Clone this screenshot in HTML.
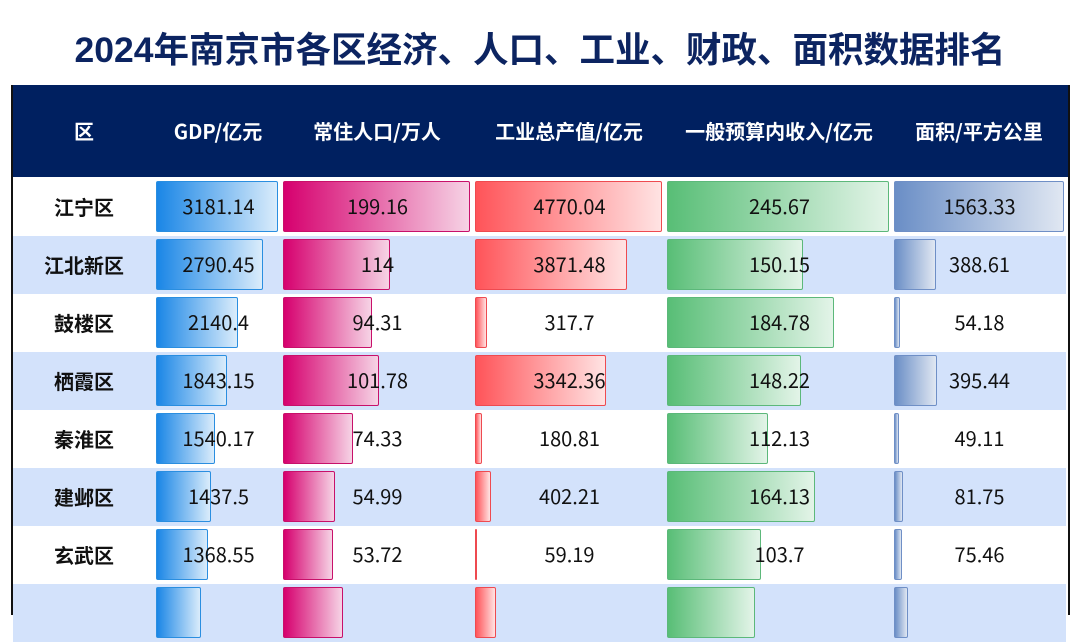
<!DOCTYPE html>
<html><head><meta charset="utf-8"><style>
body{margin:0;width:1080px;height:607px;overflow:hidden;background:#fff;font-family:"Noto Sans CJK SC","Liberation Sans",sans-serif;position:relative}
.t{position:absolute;left:0;width:1080px;top:20px;text-align:center;font-size:35.5px;font-weight:bold;color:#0c2461;line-height:60px;font-family:"Liberation Sans","Noto Sans CJK SC",sans-serif}
.frame{position:absolute;left:11px;top:85px;width:1055px;height:530px;border-left:2px solid #111;border-right:2px solid #111}
.hdr{position:absolute;left:11px;top:85px;width:1057px;height:92px;background:#002060}
.h{position:absolute;top:85px;height:92px;line-height:92px;color:#fff;font-weight:bold;font-size:20px;text-align:center;white-space:nowrap}
.row{position:absolute;left:13px;width:1053px;height:58px}
.bar{position:absolute;height:51px;box-sizing:border-box;border:1.5px solid;border-radius:2px}
.v{position:absolute;height:58px;line-height:58px;text-align:center;font-size:20px;color:#111}
.d{font-weight:bold;font-size:20px}
</style></head><body>
<div class="t">2024年南京市各区经济、人口、工业、财政、面积数据排名</div>
<div class="hdr"></div>
<div class="frame"></div>
<div class="h" style="left:13px;width:142px">区</div>
<div class="h" style="left:155px;width:126px">GDP/亿元</div>
<div class="h" style="left:282px;width:190px">常住人口/万人</div>
<div class="h" style="left:474px;width:190px">工业总产值/亿元</div>
<div class="h" style="left:666px;width:226px">一般预算内收入/亿元</div>
<div class="h" style="left:893px;width:172px">面积/平方公里</div>
<div id="rows"></div>
<script>
var data=[["江宁区",3181.14,199.16,4770.04,245.67,1563.33],["江北新区",2790.45,114,3871.48,150.15,388.61],["鼓楼区",2140.4,94.31,317.7,184.78,54.18],["栖霞区",1843.15,101.78,3342.36,148.22,395.44],["秦淮区",1540.17,74.33,180.81,112.13,49.11],["建邺区",1437.5,54.99,402.21,164.13,81.75],["玄武区",1368.55,53.72,59.19,103.7,75.46],["",1170,64,535,97,128]];
var cols=[[156,281,122,3181.14,"#1a86e6","#daecfb","#2a8ee0"],[283,472,187,199.16,"#d6006e","#f6d3e5","#c8106a"],[475,664,187,4770.04,"#ff5459","#ffe3e3","#ee4a50"],[667,892,222,245.67,"#58be76","#e3f4e8","#5cb87a"],[894,1065,170,1563.33,"#6a8ec6","#e0e7f2","#6f8fc6"]];
var h="";
data.forEach(function(r,i){var top=178+i*58;
h+='<div class="row" style="top:'+top+'px;background:'+(i%2?'#d3e2fb':'#fff')+'"></div>';
h+='<div class="v d" style="left:13px;width:142px;top:'+top+'px">'+r[0]+'</div>';
cols.forEach(function(c,j){var w=Math.max(2,r[j+1]/c[3]*c[2]);
h+='<div class="bar" style="left:'+c[0]+'px;top:'+(top+3)+'px;width:'+w+'px;border-color:'+c[6]+';background:linear-gradient(90deg,'+c[4]+','+c[5]+')"></div>';
if(r[0])h+='<div class="v" style="left:'+c[0]+'px;width:'+(c[1]-c[0])+'px;top:'+(top-1)+'px">'+r[j+1]+'</div>';});
});
document.getElementById("rows").innerHTML=h;
</script>
</body></html>
